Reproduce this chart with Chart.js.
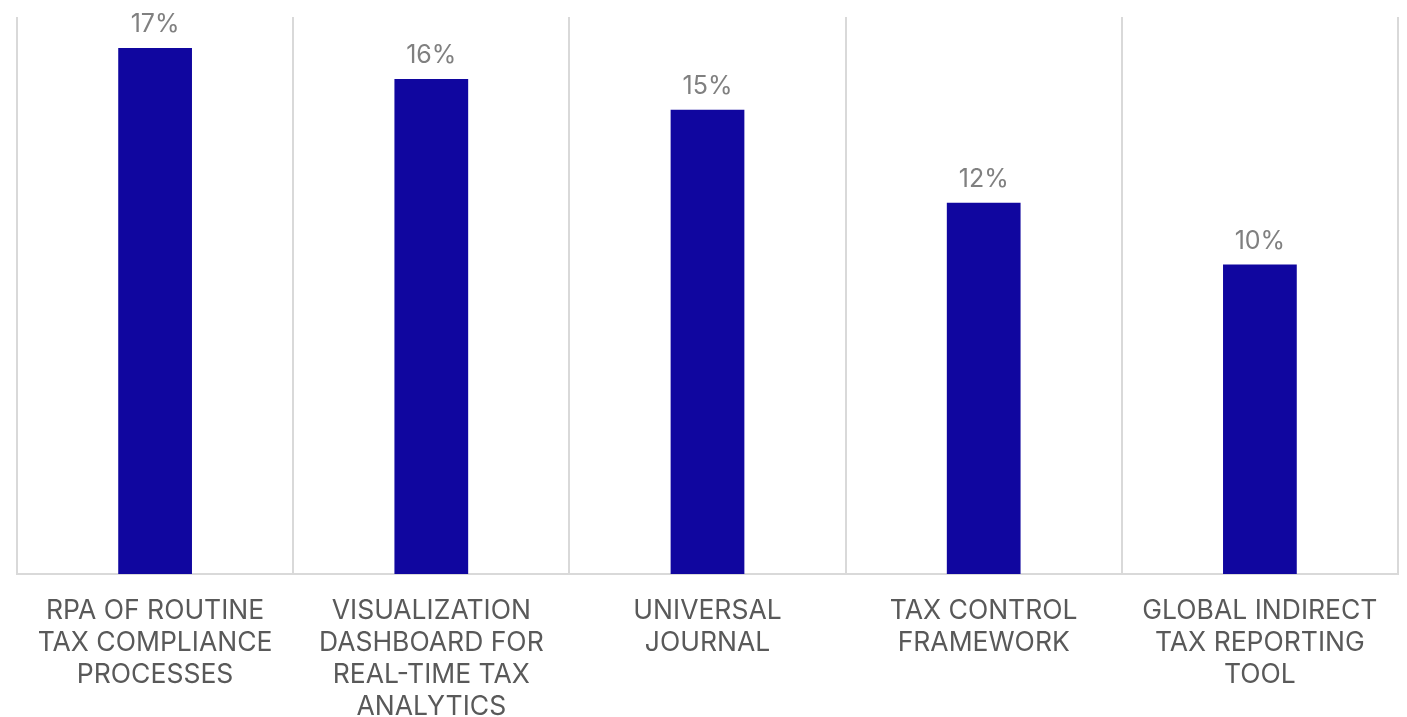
<!DOCTYPE html>
<html>
<head>
<meta charset="utf-8">
<script src="https://cdn.jsdelivr.net/npm/chart.js@4/dist/chart.umd.min.js"></script>
<style>
  html, body { margin: 0; padding: 0; background: #fff; }
  #wrap { width: 1407px; height: 717px; }
</style>
</head>
<body>
<div id="wrap"><canvas id="chart"></canvas></div>
<script>
const categories = [
  ["RPA OF ROUTINE", "TAX COMPLIANCE", "PROCESSES"],
  ["VISUALIZATION", "DASHBOARD FOR", "REAL-TIME TAX", "ANALYTICS"],
  ["UNIVERSAL", "JOURNAL"],
  ["TAX CONTROL", "FRAMEWORK"],
  ["GLOBAL INDIRECT", "TAX REPORTING", "TOOL"]
];
const shares = [17, 16, 15, 12, 10];

// draws the "17%" labels above each bar
const valueLabels = {
  id: "valueLabels",
  afterDatasetsDraw(chart) {
    const ctx = chart.ctx;
    const meta = chart.getDatasetMeta(0);
    ctx.save();
    ctx.font = "25px Inter";
    ctx.fillStyle = "#808080";
    ctx.textAlign = "center";
    ctx.textBaseline = "alphabetic";
    meta.data.forEach((bar, i) => {
      ctx.fillText(shares[i] + "%", bar.x, bar.y - 16);
    });
    ctx.restore();
  }
};

new Chart(document.getElementById("chart"), {
  type: "bar",
  data: {
    labels: categories,
    datasets: [{
      data: shares,
      backgroundColor: "#10069F",
      barPercentage: 0.267,
      categoryPercentage: 1
    }]
  },
  options: {
    responsive: true,
    maintainAspectRatio: false,
    animation: false,
    layout: { padding: { top: 17, left: 17, right: 9, bottom: 0 } },
    plugins: { legend: { display: false }, tooltip: { enabled: false } },
    scales: {
      x: {
        offset: true,
        grid: { offset: true, color: "#d9d9d9", lineWidth: 2, drawTicks: false },
        border: { color: "#d9d9d9", width: 2 },
        ticks: {
          color: "#595959",
          font: { family: "Inter", size: 26.5, lineHeight: "32px" },
          padding: 21,
          maxRotation: 0,
          autoSkip: false
        },
        afterFit(scale) { scale.height = 143; }
      },
      y: {
        display: false,
        min: 0,
        max: 18
      }
    }
  },
  plugins: [valueLabels]
});
</script>
</body>
</html>
